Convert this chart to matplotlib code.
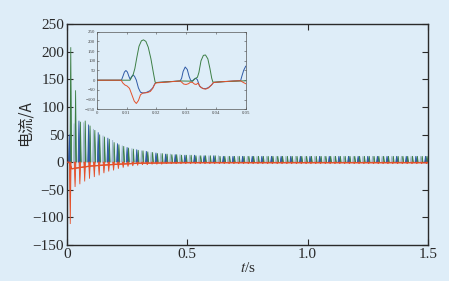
import numpy as np
import matplotlib
matplotlib.use("Agg")
import matplotlib.pyplot as plt

# ---------------- data ----------------
period = 0.02
blue_t0 = 0.0097
green_t0 = 0.0157
red_t0 = 0.0135

blue_peaks = [50, 70, 75, 72, 68, 60, 54, 48, 44, 40, 34, 30, 27, 25, 23, 21, 20, 18, 17, 16,
              15, 15, 14, 14, 13, 13, 13, 12, 12, 12, 12, 12, 11, 11, 11, 11, 11, 11, 11, 11,
              11, 11, 11, 11, 11, 11, 11, 11, 11, 11, 11, 11, 11, 11, 11, 11, 11, 11, 11, 11,
              11, 11, 11, 11, 11, 11, 11, 11, 11, 11, 11, 11, 11, 11, 11]
green_peaks = [208, 130, 73, 75, 66, 58, 50, 46, 42, 36, 32, 29, 26, 24, 22, 21, 19, 18, 16, 16,
               15, 14, 14, 13, 13, 13, 12, 12, 12, 12, 12, 11, 11, 11, 11, 11, 11, 11, 11, 11,
               11, 11, 11, 11, 11, 11, 11, 11, 11, 11, 11, 11, 11, 11, 11, 11, 11, 11, 11, 11,
               11, 11, 11, 11, 11, 11, 11, 11, 11, 11, 11, 11, 11, 11, 11]
red_peaks = [-112, -45, -40, -35, -30, -27, -24, -20, -17, -15, -12, -10, -8, -7, -6, -5, -5, -4, -4, -4,
             -3, -3, -3, -3, -3, -3, -3, -3, -3, -3, -3, -3, -3, -3, -3, -3, -3, -3, -3, -3,
             -3, -3, -3, -3, -3, -3, -3, -3, -3, -3, -3, -3, -3, -3, -3, -3, -3, -3, -3, -3,
             -3, -3, -3, -3, -3, -3, -3, -3, -3, -3, -3, -3, -3, -3, -3]
red_base_t = [0, 0.008, 0.02, 0.05, 0.1, 0.2, 0.3, 0.5, 1.5]
red_base_v = [0, 0, -12, -10, -7, -4, -2, -1, -1]
pulse_halfwidth = 0.0035

# inset (zoom 0 - 0.05 s)
in_blue_t = [0, 0.0083, 0.0088, 0.0093, 0.0098, 0.0103, 0.0108, 0.0112, 0.0117, 0.0122, 0.0127,
             0.0133, 0.0140, 0.0147, 0.0155, 0.0165, 0.0178, 0.0188, 0.0195, 0.0200, 0.024, 0.028,
             0.0285, 0.0290, 0.0297, 0.0304, 0.0310, 0.0315, 0.0320, 0.0327, 0.0333, 0.0338, 0.0345,
             0.0355, 0.0365, 0.0375, 0.0385, 0.0392, 0.042, 0.046, 0.0483, 0.0487, 0.0493, 0.0500]
in_blue_v = [0, 0, 20, 42, 50, 42, 20, 5, 18, 27, 20,
             0, -40, -62, -66, -64, -55, -40, -18, -12, -8, -4,
             10, 45, 68, 55, 20, 0, -5, 5, 10, 2, -30,
             -42, -44, -38, -25, -12, -8, -4, -2, 20, 50, 72]
in_green_t = [0, 0.0112, 0.0117, 0.0122, 0.0128, 0.0135, 0.0142, 0.0150, 0.0157, 0.0165, 0.0173,
              0.0182, 0.0190, 0.0196, 0.0200, 0.024, 0.028, 0.0322, 0.0330, 0.0338, 0.0343, 0.0350,
              0.0358, 0.0365, 0.0373, 0.0380, 0.0386, 0.0390, 0.042, 0.05]
in_green_v = [0, 0, 15, 27, 60, 120, 175, 203, 208, 200, 170,
              110, 40, -10, -12, -8, -4, -5, 8, 15, 40, 100,
              128, 130, 110, 60, 10, -10, -8, -3]
in_red_t = [0, 0.0082, 0.0088, 0.0095, 0.0102, 0.0110, 0.0118, 0.0126, 0.0133, 0.0140, 0.0147,
            0.0155, 0.0170, 0.0180, 0.0188, 0.0195, 0.0200, 0.024, 0.028, 0.0285, 0.0292, 0.0300,
            0.0308, 0.0315, 0.0322, 0.0328, 0.0334, 0.0340, 0.0348, 0.0358, 0.0366, 0.0375, 0.0385,
            0.0392, 0.042, 0.046, 0.0483, 0.0490, 0.0500]
in_red_v = [0, 0, -15, -25, -30, -42, -75, -108, -120, -105, -75,
            -66, -64, -58, -42, -20, -14, -9, -4, -10, -20, -22,
            -18, -10, -12, -20, -22, -15, -35, -44, -46, -40, -25,
            -12, -8, -4, -3, -10, -18]

x_ticks = [0, 0.5, 1.0, 1.5]
x_ticklabels = ["0", "0.5", "1.0", "1.5"]
y_ticks = [-150, -100, -50, 0, 50, 100, 150, 200, 250]
in_x_ticks = [0, 0.01, 0.02, 0.03, 0.04, 0.05]
in_x_ticklabels = ["0", "0.01", "0.02", "0.03", "0.04", "0.05"]

# ---------------- style ----------------
bg = "#deedf8"
c_blue = "#2f5aa6"
c_blue_light = "#9db4ca"
c_green = "#3c7f45"
c_red = "#e4512b"
spine_c = "#2a2a2a"

plt.rcParams["font.family"] = ["Liberation Serif", "DejaVu Serif"]
plt.rcParams["mathtext.fontset"] = "stix"

fig = plt.figure(figsize=(4.49, 2.81), dpi=100, facecolor=bg)
ax = fig.add_axes([67 / 449, 1 - 245 / 281, 361 / 449, 221 / 281], facecolor=bg)

n = len(blue_peaks)
k = np.arange(n)
bt = blue_t0 + period * k
gt = green_t0 + period * k
rt = red_t0 + period * k
blue_cols = [c_blue if i % 2 == 0 else c_blue_light for i in range(n)]


def draw_pulses(times, peaks, cols, lw, z):
    for t, p, c in zip(times, peaks, cols):
        xs = [t - pulse_halfwidth, t, t + pulse_halfwidth]
        ys = [0, p, 0]
        ax.fill(xs, ys, color=c, lw=lw, zorder=z)


ax.plot(red_base_t, red_base_v, color=c_red, lw=0.9, zorder=1)
draw_pulses(gt, green_peaks, [c_green] * n, 0.6, 2)
draw_pulses(bt, blue_peaks, blue_cols, 0.6, 2)
draw_pulses(rt, red_peaks, [c_red] * n, 0.6, 3)
ax.plot(red_base_t, red_base_v, color=c_red, lw=0.8, zorder=4)

ax.set_xlim(0, 1.5)
ax.set_ylim(-150, 250)
ax.set_xticks(x_ticks)
ax.set_xticklabels(x_ticklabels)
ax.set_yticks(y_ticks)
ax.tick_params(direction="in", length=4, width=0.8, top=True, right=True,
               labelsize=11, colors=spine_c, pad=2)
for s in ax.spines.values():
    s.set_color(spine_c)
    s.set_linewidth(1.0)
ax.set_xlabel("$t$/s", fontsize=11, labelpad=0, color=spine_c)
ax.set_ylabel("电流/A", fontsize=11, family=["Noto Sans CJK SC", "DejaVu Sans"], color=spine_c)
ax.yaxis.set_label_coords(-0.092, 0.55)

# inset
ins = fig.add_axes([96.7 / 449, 1 - 109.3 / 281, 149 / 449, 77.6 / 281], facecolor=bg)
ins.plot(in_blue_t, in_blue_v, color=c_blue, lw=0.7)
ins.plot(in_green_t, in_green_v, color=c_green, lw=0.7)
ins.plot(in_red_t, in_red_v, color=c_red, lw=0.7)
ins.set_xlim(0, 0.05)
ins.set_ylim(-150, 250)
ins.set_xticks(in_x_ticks)
ins.set_xticklabels(in_x_ticklabels)
ins.set_yticks(y_ticks)
ins.tick_params(direction="in", length=1.5, width=0.4, top=True, right=True,
                labelsize=3.5, colors="#444444", pad=1)
for s in ins.spines.values():
    s.set_color("#555555")
    s.set_linewidth(0.5)

fig.savefig("out.png", dpi=100, facecolor=bg)
